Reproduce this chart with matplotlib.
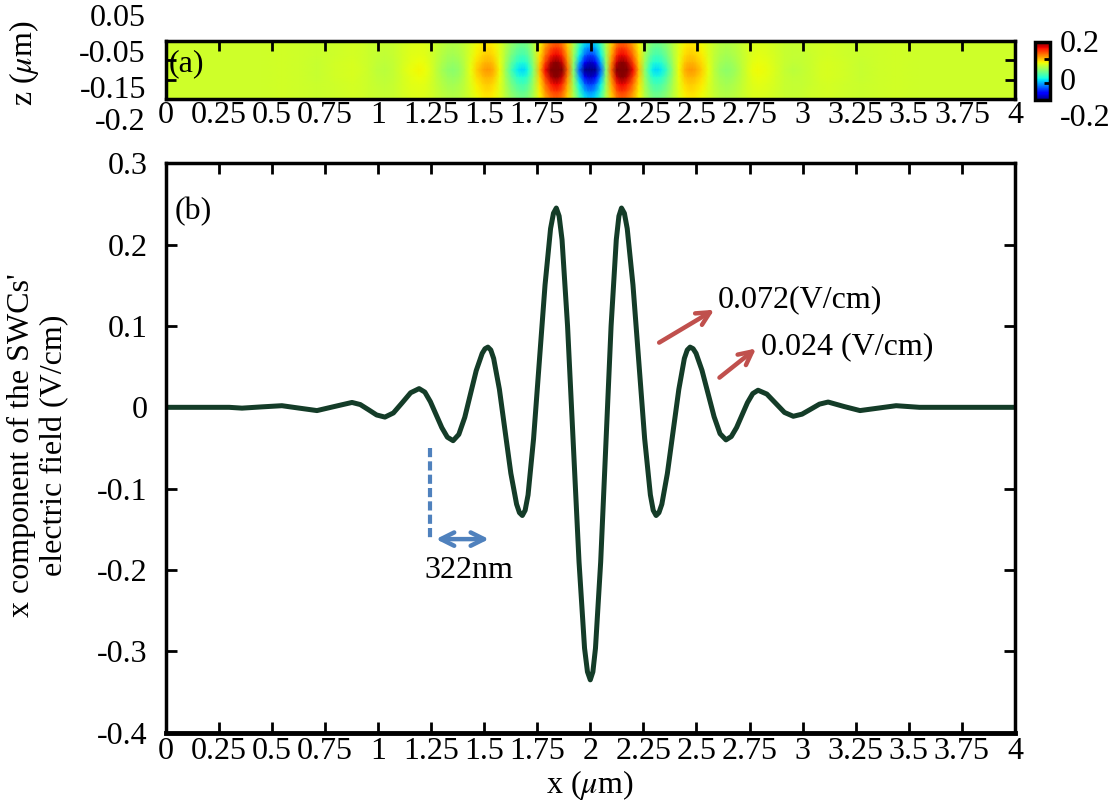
import numpy as np
import matplotlib
matplotlib.use("Agg")
import matplotlib.pyplot as plt

plt.rcParams['font.family'] = ['Liberation Serif', 'DejaVu Serif']
plt.rcParams['mathtext.fontset'] = 'stix'

# %% data
# x position (um) and x component of the SWC electric field (V/cm)
x_um = [0.0, 0.2, 0.3, 0.36, 0.45, 0.548, 0.63, 0.713, 0.795, 0.878,
        0.917, 0.956, 0.994, 1.033, 1.073, 1.114, 1.154, 1.194, 1.221, 1.247,
        1.274, 1.301, 1.327, 1.354, 1.381, 1.409, 1.436, 1.463, 1.491, 1.5043, 1.518,
        1.5315, 1.545, 1.572, 1.599, 1.626, 1.653, 1.6665, 1.68, 1.6933, 1.707, 1.733,
        1.76, 1.787, 1.813, 1.8267, 1.84, 1.8533, 1.867, 1.893, 1.92, 1.947, 1.973,
        1.9867, 2.0, 2.0123, 2.0245, 2.049, 2.0735, 2.098, 2.1225, 2.1348, 2.147,
        2.1606, 2.174, 2.201, 2.2285, 2.256, 2.283, 2.2964, 2.31, 2.3233,
        2.337, 2.363, 2.39, 2.417, 2.443, 2.4567, 2.47, 2.4841, 2.498, 2.526, 2.5545, 2.583,
        2.611, 2.639, 2.664, 2.689, 2.7145, 2.74, 2.765, 2.79, 2.8315, 2.873,
        2.9145, 2.956, 2.997, 3.038, 3.079, 3.12, 3.195, 3.27, 3.355, 3.44,
        3.55, 3.7, 4.0]
e_x = [0.0, 0.0, 0.0, -0.001, 0.0005, 0.002, -0.001, -0.004, 0.001, 0.006,
       0.0034, -0.003, -0.0094, -0.012, -0.0069, 0.0055, 0.0179, 0.023, 0.0187, 0.007,
       -0.009, -0.025, -0.0367, -0.041, -0.0333, -0.0123, 0.0165, 0.0452, 0.0663, 0.072, 0.074,
       0.0705, 0.0601, 0.0223, -0.0295, -0.0812, -0.1191, -0.1295, -0.133, -0.1266, -0.1077, -0.0385,
       0.056, 0.1505, 0.2197, 0.2386, 0.245, 0.2351, 0.2061, 0.1, -0.045, -0.19, -0.2961,
       -0.3251, -0.335, -0.3251, -0.2961, -0.19, -0.045, 0.1, 0.2061, 0.2351, 0.245,
       0.2386, 0.2197, 0.1505, 0.056, -0.0385, -0.1077, -0.1266, -0.133, -0.1295,
       -0.1191, -0.0813, -0.0295, 0.0222, 0.0601, 0.0705, 0.074, 0.0721, 0.0664, 0.0455, 0.017, -0.0115,
       -0.0324, -0.04, -0.0359, -0.0248, -0.0095, 0.0057, 0.0169, 0.021, 0.0163, 0.005,
       -0.0063, -0.011, -0.0084, -0.0023, 0.0039, 0.0065, 0.001, -0.004, -0.001, 0.002,
       0.0, 0.0, 0.0]

# field map (a): rows in z (um) and relative strength of each row
z_rows = [0.05, 0.0125, -0.025, -0.0625, -0.1, -0.1375, -0.175, -0.2125, -0.25]
z_profile = [0.4, 0.5, 0.62, 0.8, 1.0, 0.8, 0.62, 0.5, 0.4]

x_ticks = [0, 0.25, 0.5, 0.75, 1, 1.25, 1.5, 1.75, 2, 2.25, 2.5, 2.75, 3, 3.25, 3.5, 3.75, 4]
x_ticklabels = ['0', '0.25', '0.5', '0.75', '1', '1.25', '1.5', '1.75', '2', '2.25',
                '2.5', '2.75', '3', '3.25', '3.5', '3.75', '4']
y_ticks = [-0.4, -0.3, -0.2, -0.1, 0, 0.1, 0.2, 0.3]
y_ticklabels = ['-0.4', '-0.3', '-0.2', '-0.1', '0', '0.1', '0.2', '0.3']

line_col = '#143c28'
red = '#c0504d'
blue = '#4f81bd'
fs = 23

fig = plt.figure(figsize=(11.17, 8), dpi=100)

# %% (a) field map
ax_a = fig.add_axes([0.1486, 0.8759, 0.7601, 0.0733])
field = np.outer(z_profile, e_x)
mesh = ax_a.pcolormesh(x_um, z_rows, field, shading='gouraud', cmap='jet',
                       vmin=-0.3, vmax=0.2)
ax_a.set_xlim(0, 4)
ax_a.set_ylim(-0.25, 0.05)
ax_a.set_xticks(x_ticks)
ax_a.set_xticklabels(x_ticklabels, fontsize=fs)
ax_a.set_yticks([-0.05, -0.15])
ax_a.tick_params(axis='x', direction='in', top=True, bottom=False, length=7, width=2, pad=1)
ax_a.tick_params(axis='y', direction='in', left=True, right=True, labelleft=False,
                 length=7, width=2)
for s in ax_a.spines.values():
    s.set_linewidth(2.5)
ax_a.text(0.003, 0.6, '(a)', transform=ax_a.transAxes, fontsize=fs, va='center', ha='left')

# z tick labels sit where the original figure put them
for lab, py in [('0.05', 18), ('-0.05', 54), ('-0.15', 91), ('-0.2', 122)]:
    fig.text(146 / 1117, 1 - py / 800, lab, fontsize=fs, ha='right', va='center')
fig.text(24 / 1117, 1 - 63 / 800, r'z ($\mu$m)', fontsize=fs, rotation=90,
         ha='center', va='center')

# colorbar
cax = fig.add_axes([0.9266, 0.875, 0.0134, 0.0725])
cb = fig.colorbar(mesh, cax=cax, ticks=[0.05, -0.15])
cb.ax.tick_params(direction='in', length=4, width=2, labelright=False)
cb.outline.set_linewidth(2.5)
for lab, py in [('0.2', 45), ('0', 82), ('-0.2', 118)]:
    fig.text(1060 / 1117, 1 - py / 800, lab, fontsize=fs, ha='left', va='center')

# %% (b) field along x
ax = fig.add_axes([0.1482, 0.0841, 0.7605, 0.7118])
ax.plot(x_um, e_x, color=line_col, lw=3.6, solid_joinstyle='round')
ax.set_xlim(0, 4)
ax.set_ylim(-0.4, 0.3)
ax.set_xticks(x_ticks)
ax.set_xticklabels(x_ticklabels, fontsize=fs)
ax.set_yticks(y_ticks)
ax.set_yticklabels(y_ticklabels, fontsize=fs)
ax.tick_params(direction='in', top=True, right=True, length=8, width=2)
ax.tick_params(axis='y', pad=13)
ax.tick_params(axis='x', pad=3)
for s in ax.spines.values():
    s.set_linewidth(2.5)
ax.spines['bottom'].set_linewidth(3.5)

fig.text(590 / 1117, 1 - 785 / 800, r'x ($\mu$m)', fontsize=fs, ha='center', va='center')
fig.text(38 / 1117, 1 - 445 / 800, "x component of the SWCs'\nelectric field (V/cm)",
         fontsize=fs, rotation=90, ha='center', va='center', linespacing=1.15)

ax.text(0.045, 0.241, '(b)', fontsize=fs, ha='left', va='center')

# amplitude arrows
ax.annotate('', xy=(2.595, 0.1217), xytext=(2.313, 0.0778),
            arrowprops=dict(arrowstyle='->', color=red, lw=3.2, mutation_scale=24))
ax.text(2.60, 0.132, '0.072(V/cm)', fontsize=fs, ha='left', va='center')
ax.annotate('', xy=(2.791, 0.0745), xytext=(2.598, 0.0344),
            arrowprops=dict(arrowstyle='->', color=red, lw=3.2, mutation_scale=24))
ax.text(2.804, 0.074, '0.024 (V/cm)', fontsize=fs, ha='left', va='center')

# wavelength marker
ax.plot([1.245, 1.245], [-0.05, -0.161], color=blue, lw=3, linestyle=(0, (2.2, 1)))
ax.annotate('', xy=(1.536, -0.162), xytext=(1.26, -0.162),
            arrowprops=dict(arrowstyle='<->', color=blue, lw=3.2, mutation_scale=24))
ax.text(1.43, -0.2, '322nm', fontsize=fs, ha='center', va='center')

fig.savefig('out.png', dpi=100)
